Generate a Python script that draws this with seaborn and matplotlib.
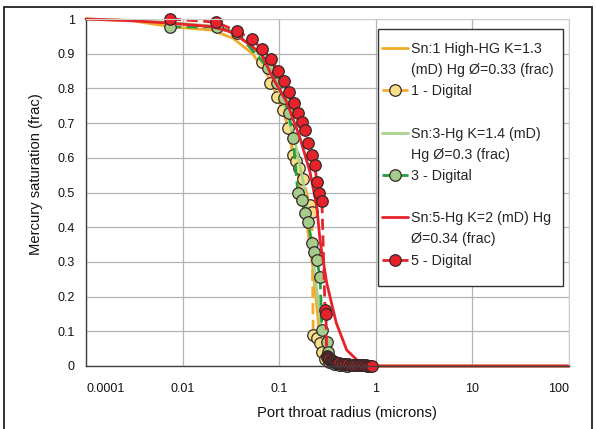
import matplotlib
matplotlib.use("Agg")
import matplotlib.pyplot as plt
import seaborn as sns
from matplotlib.lines import Line2D
from matplotlib.patches import Rectangle
import matplotlib.ticker as mticker

# ---------------- data ----------------
# Model curves (solid)
sn1_x = [0.001, 0.003, 0.0074, 0.02, 0.033, 0.053, 0.075, 0.095, 0.12, 0.139, 0.17, 0.2, 0.224, 0.245, 0.265, 0.31, 0.4, 1.0, 100]
sn1_y = [1.0, 0.995, 0.978, 0.968, 0.945, 0.9, 0.84, 0.78, 0.70, 0.62, 0.5, 0.38, 0.28, 0.17, 0.08, 0.03, 0.005, 0.0, 0.0]

sn3_x = [0.001, 0.003, 0.0074, 0.02, 0.033, 0.053, 0.075, 0.095, 0.12, 0.15, 0.18, 0.21, 0.24, 0.27, 0.3, 0.35, 0.45, 1.0, 100]
sn3_y = [1.0, 0.996, 0.99, 0.98, 0.96, 0.92, 0.87, 0.81, 0.73, 0.63, 0.52, 0.38, 0.24, 0.12, 0.05, 0.015, 0.002, 0.0, 0.0]

sn5_x = [0.001, 0.003, 0.0074, 0.02, 0.03, 0.04, 0.05, 0.065, 0.086, 0.12, 0.163, 0.208, 0.245, 0.265, 0.31, 0.39, 0.5, 0.68, 1.0, 100]
sn5_y = [1.0, 0.995, 0.988, 0.978, 0.965, 0.945, 0.925, 0.9, 0.83, 0.76, 0.66, 0.56, 0.46, 0.36, 0.24, 0.124, 0.046, 0.01, 0.0, 0.0]

# Digital points (dashed + markers)
d1_x = [0.066, 0.080, 0.095, 0.109, 0.123, 0.139, 0.150, 0.160, 0.176, 0.208, 0.218, 0.225, 0.245, 0.265, 0.28, 0.30, 0.33, 0.36, 0.40, 0.45, 0.5]
d1_y = [0.876, 0.815, 0.775, 0.738, 0.686, 0.608, 0.59, 0.57, 0.54, 0.464, 0.444, 0.089, 0.08, 0.066, 0.04, 0.02, 0.012, 0.008, 0.005, 0.002, 0.0]

d3_x = [0.0074, 0.0226, 0.0366, 0.076, 0.095, 0.112, 0.126, 0.139, 0.156, 0.171, 0.184, 0.198, 0.218, 0.228, 0.245, 0.265, 0.277, 0.31, 0.317, 0.34, 0.37, 0.42, 0.5]
d3_y = [0.977, 0.977, 0.96, 0.86, 0.815, 0.772, 0.729, 0.657, 0.5, 0.478, 0.441, 0.415, 0.354, 0.329, 0.305, 0.256, 0.104, 0.069, 0.04, 0.015, 0.006, 0.002, 0.0]

d5_x = [0.0074, 0.0222, 0.0366, 0.0523, 0.0664, 0.0822, 0.0975, 0.112, 0.126, 0.141, 0.156, 0.171, 0.184, 0.198, 0.218, 0.234, 0.245, 0.258, 0.277, 0.298, 0.305, 0.31,
        0.315, 0.32, 0.325, 0.33, 0.34, 0.345, 0.35, 0.36, 0.37, 0.38, 0.39, 0.40, 0.41, 0.42, 0.435, 0.45, 0.465, 0.48, 0.50, 0.52, 0.54, 0.56, 0.58, 0.60, 0.63, 0.65, 0.68, 0.70, 0.73, 0.76, 0.79, 0.82, 0.85, 0.88, 0.91]
d5_y = [1.0, 0.991, 0.965, 0.942, 0.913, 0.885, 0.85, 0.82, 0.79, 0.758, 0.729, 0.703, 0.68, 0.643, 0.608, 0.58, 0.53, 0.5, 0.475, 0.16, 0.15, 0.03,
        0.027, 0.025, 0.022, 0.02, 0.018, 0.016, 0.015, 0.013, 0.012, 0.011, 0.01, 0.009, 0.009, 0.008, 0.007, 0.007, 0.006, 0.006, 0.005, 0.005, 0.004, 0.004, 0.004, 0.003, 0.003, 0.003, 0.003, 0.002, 0.002, 0.002, 0.002, 0.001, 0.001, 0.001, 0.0]

# legend text, one list entry per legend row ("" = continuation / spacer row)
legend_rows = ["Sn:1 High-HG K=1.3", "(mD) Hg \u00d8=0.33 (frac)", "1 - Digital", "",
               "Sn:3-Hg K=1.4 (mD)", "Hg \u00d8=0.3 (frac)", "3 - Digital", "",
               "Sn:5-Hg K=2 (mD) Hg", "\u00d8=0.34 (frac)", "5 - Digital"]
x_ticks = [0.001, 0.01, 0.1, 1, 10, 100]
x_tick_labels = ["0.0001", "0.01", "0.1", "1", "10", "100"]
y_ticks = [0, 0.1, 0.2, 0.3, 0.4, 0.5, 0.6, 0.7, 0.8, 0.9, 1.0]
y_tick_labels = ["0", "0.1", "0.2", "0.3", "0.4", "0.5", "0.6", "0.7", "0.8", "0.9", "1"]

# ---------------- style ----------------
sns.set_style("white")
plt.rcParams["font.family"] = ["Liberation Sans", "DejaVu Sans"]

W, H = 596, 429
fig = plt.figure(figsize=(W / 100, H / 100), dpi=100)
ax = fig.add_axes([86 / W, 1 - 366 / H, (569 - 86) / W, (366 - 19) / H])

orange = "#f0ac2a"
yellow_face = "#f7df8a"
green_light = "#a9d18e"
green_dark = "#23a040"
green_face = "#a6cc8c"
red = "#e8222a"
edge = "#352828"

common_marker = dict(marker="o", markersize=8.3, markeredgecolor=edge, markeredgewidth=0.9)
dash = (0, (4, 2))

# Series 1
sns.lineplot(x=sn1_x, y=sn1_y, ax=ax, color=orange, linewidth=2.0, sort=False, clip_on=False)
sns.lineplot(x=d1_x, y=d1_y, ax=ax, color=orange, linewidth=2.0, linestyle=dash,
             markerfacecolor=yellow_face, sort=False, clip_on=False, **common_marker)
# Series 3
sns.lineplot(x=sn3_x, y=sn3_y, ax=ax, color=green_light, linewidth=2.0, sort=False, clip_on=False)
sns.lineplot(x=d3_x, y=d3_y, ax=ax, color=green_dark, linewidth=2.0, linestyle=dash,
             markerfacecolor=green_face, sort=False, clip_on=False, **common_marker)
# Series 5
sns.lineplot(x=sn5_x, y=sn5_y, ax=ax, color=red, linewidth=2.0, sort=False, clip_on=False)
sns.lineplot(x=d5_x, y=d5_y, ax=ax, color=red, linewidth=2.0, linestyle=dash,
             markerfacecolor=red, sort=False, clip_on=False, **common_marker)

ax.set_xscale("log")
ax.set_xlim(0.001, 100)
ax.set_ylim(0, 1)

ax.xaxis.set_major_locator(mticker.FixedLocator(x_ticks))
ax.xaxis.set_minor_locator(mticker.NullLocator())
ax.set_xticklabels(x_tick_labels, fontsize=9)
xt = ax.get_xticklabels()
xt[0].set_horizontalalignment("left")
xt[-1].set_horizontalalignment("right")
ax.set_yticks(y_ticks)
ax.set_yticklabels(y_tick_labels, fontsize=9)

ax.tick_params(axis="x", direction="inout", length=7, width=1, color="#404040", pad=9, labelcolor="#111111")
ax.tick_params(axis="y", direction="out", length=5, width=1, color="#404040", pad=3, labelcolor="#111111")

ax.grid(True, which="major", color="#b4b4b4", linewidth=0.9)
ax.set_axisbelow(True)
for s in ["left", "bottom"]:
    ax.spines[s].set_color("#404040")
    ax.spines[s].set_linewidth(1.0)
for s in ["top", "right"]:
    ax.spines[s].set_color("#cfcfcf")
    ax.spines[s].set_linewidth(0.8)

ax.set_xlabel("Port throat radius (microns)", fontsize=10.6, color="#111111")
ax.xaxis.set_label_coords((347 - 86) / 483, (366 - 406) / 347)
ax.set_ylabel("Mercury saturation (frac)", fontsize=10.6, color="#111111")
ax.yaxis.set_label_coords((43 - 86) / 483, (366 - 174) / 347)

# legend (frame drawn separately so the padding matches the reference)
lines = ax.get_lines()
blank = Line2D([], [], linestyle="none")
leg_handles = [lines[0], blank, lines[1], blank,
               lines[2], blank, lines[3], blank,
               lines[4], blank, lines[5]]
fig.patches.append(Rectangle((378 / W, 1 - 286 / H), (563 - 378) / W, (286 - 29) / H,
                             transform=fig.transFigure, facecolor="white",
                             edgecolor="#333333", linewidth=1.0, zorder=3))
leg = fig.legend(leg_handles, legend_rows, loc="upper left",
                 bbox_to_anchor=(382 / W, 1 - 42 / H), bbox_transform=fig.transFigure,
                 borderaxespad=0, borderpad=0, fontsize=10.3, frameon=False,
                 handlelength=1.85, handleheight=0.7,
                 handletextpad=0.18, labelspacing=0.5)
leg.set_zorder(5)

# outer frame
fig.patches.append(Rectangle((4 / W, -0.1), (592 - 4) / W, 1.1 - 7 / H,
                             transform=fig.transFigure, fill=False,
                             edgecolor="#222222", linewidth=1.3))

fig.savefig("out.png", dpi=100)
